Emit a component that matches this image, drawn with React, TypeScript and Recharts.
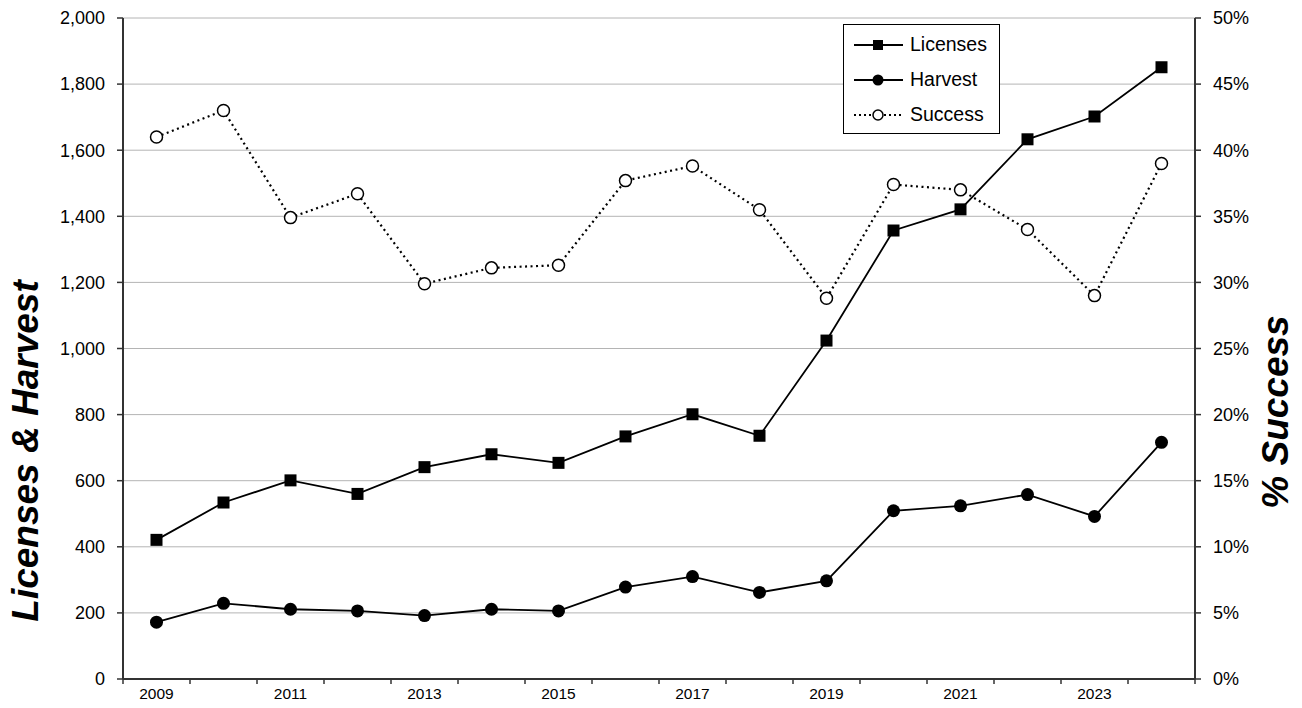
import { CartesianGrid, Legend, Line, LineChart, XAxis, YAxis } from 'recharts'

const years = [2009, 2010, 2011, 2012, 2013, 2014, 2015, 2016, 2017, 2018, 2019, 2020, 2021, 2022, 2023, 2024]
const licenses = [421, 534, 601, 560, 641, 680, 654, 734, 801, 736, 1024, 1357, 1421, 1633, 1702, 1851]
const harvest = [172, 229, 211, 206, 192, 211, 206, 278, 310, 262, 297, 509, 524, 558, 492, 716]
const success = [41.0, 43.0, 34.9, 36.7, 29.9, 31.1, 31.3, 37.7, 38.8, 35.5, 28.8, 37.4, 37.0, 34.0, 29.0, 39.0]

const yearLabels = [2009, 2011, 2013, 2015, 2017, 2019, 2021, 2023]
const leftTicks = [0, 200, 400, 600, 800, 1000, 1200, 1400, 1600, 1800, 2000]
const rightTicks = [0, 5, 10, 15, 20, 25, 30, 35, 40, 45, 50]

const data = years.map((year, i) => ({
  year,
  licenses: licenses[i],
  harvest: harvest[i],
  success: success[i],
}))

// tick lines sit between years, labels on the year itself
const boundaries = [...years.map((y) => y - 0.5), years[years.length - 1] + 0.5]
const xTicks = [...boundaries, ...yearLabels]

const FONT = '"Liberation Sans", Arial, sans-serif'
const AXIS = '#333'
const GRID = '#b4b4b4'

function XTick(props: any) {
  const { x, y, payload } = props
  const v = payload.value
  if (!Number.isInteger(v)) {
    return <line x1={x} x2={x} y1={y} y2={y + 5} stroke={AXIS} strokeWidth={1.5} />
  }
  return (
    <text x={x} y={y + 20} textAnchor="middle" fontSize={15.5} fontFamily={FONT} fill="#000">
      {v}
    </text>
  )
}

function SquareDot(props: any) {
  const { cx, cy, index } = props
  return <rect key={`sq-${index}`} x={cx - 6} y={cy - 6} width={12} height={12} fill="#000" />
}

function FilledDot(props: any) {
  const { cx, cy, index } = props
  return <circle key={`fd-${index}`} cx={cx} cy={cy} r={6.5} fill="#000" />
}

function OpenDot(props: any) {
  const { cx, cy, index } = props
  return <circle key={`od-${index}`} cx={cx} cy={cy} r={6} fill="#fff" stroke="#000" strokeWidth={1.5} />
}

const legendOrder = ['licenses', 'harvest', 'success']
const legendNames: Record<string, string> = {
  licenses: 'Licenses',
  harvest: 'Harvest',
  success: 'Success',
}

function LegendIcon({ kind }: { kind: string }) {
  return (
    <svg width={52} height={20} style={{ display: 'block' }}>
      <line
        x1={1}
        x2={50}
        y1={10}
        y2={10}
        stroke="#000"
        strokeWidth={kind === 'success' ? 2 : 1.8}
        strokeDasharray={kind === 'success' ? '2 3' : undefined}
      />
      {kind === 'licenses' && <rect x={20} y={5} width={10} height={10} fill="#000" />}
      {kind === 'harvest' && <circle cx={25} cy={10} r={5.5} fill="#000" />}
      {kind === 'success' && <circle cx={25} cy={10} r={5} fill="#fff" stroke="#000" strokeWidth={1.5} />}
    </svg>
  )
}

function renderLegend(props: any) {
  const items = [...((props.payload || []) as any[])].sort(
    (a, b) => legendOrder.indexOf(a.dataKey) - legendOrder.indexOf(b.dataKey),
  )
  return (
    <div style={{ paddingTop: 2 }}>
      {items.map((item) => (
        <div
          key={item.dataKey}
          style={{ display: 'flex', alignItems: 'center', height: 35, paddingLeft: 9 }}
        >
          <LegendIcon kind={item.dataKey} />
          <span style={{ marginLeft: 5, fontSize: 19.5, fontFamily: FONT, color: '#000' }}>
            {legendNames[item.dataKey]}
          </span>
        </div>
      ))}
    </div>
  )
}

const titleStyle = {
  fontSize: 37,
  fontWeight: 700,
  fontStyle: 'italic',
  fontFamily: FONT,
  fill: '#000',
}

export default function App() {
  return (
    <div style={{ position: 'absolute', left: 0, top: 0, background: '#fff' }}>
      <LineChart
        width={1302}
        height={708}
        data={data}
        margin={{ top: 18, right: 0, bottom: 0, left: 0 }}
      >
        <CartesianGrid yAxisId="left" vertical={false} stroke={GRID} strokeWidth={1} />
        <XAxis
          dataKey="year"
          type="number"
          domain={[2008.5, 2024.5]}
          ticks={xTicks}
          interval={0}
          height={29}
          tickSize={0}
          tickMargin={0}
          tickLine={false}
          tick={<XTick />}
          axisLine={{ stroke: AXIS, strokeWidth: 2 }}
          allowDataOverflow
        />
        <YAxis
          yAxisId="left"
          orientation="left"
          width={123}
          domain={[0, 2000]}
          ticks={leftTicks}
          interval={0}
          tickSize={6}
          tickMargin={12}
          tick={{ fontSize: 18, fontFamily: FONT, fill: '#000' }}
          tickLine={{ stroke: AXIS, strokeWidth: 1.5 }}
          axisLine={{ stroke: AXIS, strokeWidth: 2 }}
          tickFormatter={(v) => Number(v).toLocaleString('en-US')}
          label={{
            content: () => (
              <text
                x={25}
                y={451}
                transform="rotate(-90 25 451)"
                textAnchor="middle"
                dominantBaseline="central"
                style={titleStyle}
              >
                Licenses &amp; Harvest
              </text>
            ),
          }}
        />
        <YAxis
          yAxisId="right"
          orientation="right"
          width={107}
          domain={[0, 50]}
          ticks={rightTicks}
          interval={0}
          tickSize={6}
          tickMargin={12}
          tick={{ fontSize: 18, fontFamily: FONT, fill: '#000' }}
          tickLine={{ stroke: AXIS, strokeWidth: 1.5 }}
          axisLine={{ stroke: AXIS, strokeWidth: 2 }}
          tickFormatter={(v) => `${v}%`}
          label={{
            content: () => (
              <text
                x={1275}
                y={412}
                transform="rotate(-90 1275 412)"
                textAnchor="middle"
                dominantBaseline="central"
                style={titleStyle}
              >
                % Success
              </text>
            ),
          }}
        />
        <Legend
          layout="vertical"
          align="center"
          verticalAlign="middle"
          content={renderLegend}
          wrapperStyle={{
            left: 843,
            top: 24,
            width: 157,
            height: 110,
            border: '1.5px solid #000',
            background: '#fff',
            boxSizing: 'border-box',
          }}
        />
        <Line
          yAxisId="left"
          dataKey="licenses"
          name="Licenses"
          stroke="#000"
          strokeWidth={1.8}
          dot={SquareDot}
          activeDot={false}
          isAnimationActive={false}
        />
        <Line
          yAxisId="left"
          dataKey="harvest"
          name="Harvest"
          stroke="#000"
          strokeWidth={1.8}
          dot={FilledDot}
          activeDot={false}
          isAnimationActive={false}
        />
        <Line
          yAxisId="right"
          dataKey="success"
          name="Success"
          stroke="#000"
          strokeWidth={2.2}
          strokeDasharray="2 3.5"
          dot={OpenDot}
          activeDot={false}
          isAnimationActive={false}
        />
      </LineChart>
    </div>
  )
}
